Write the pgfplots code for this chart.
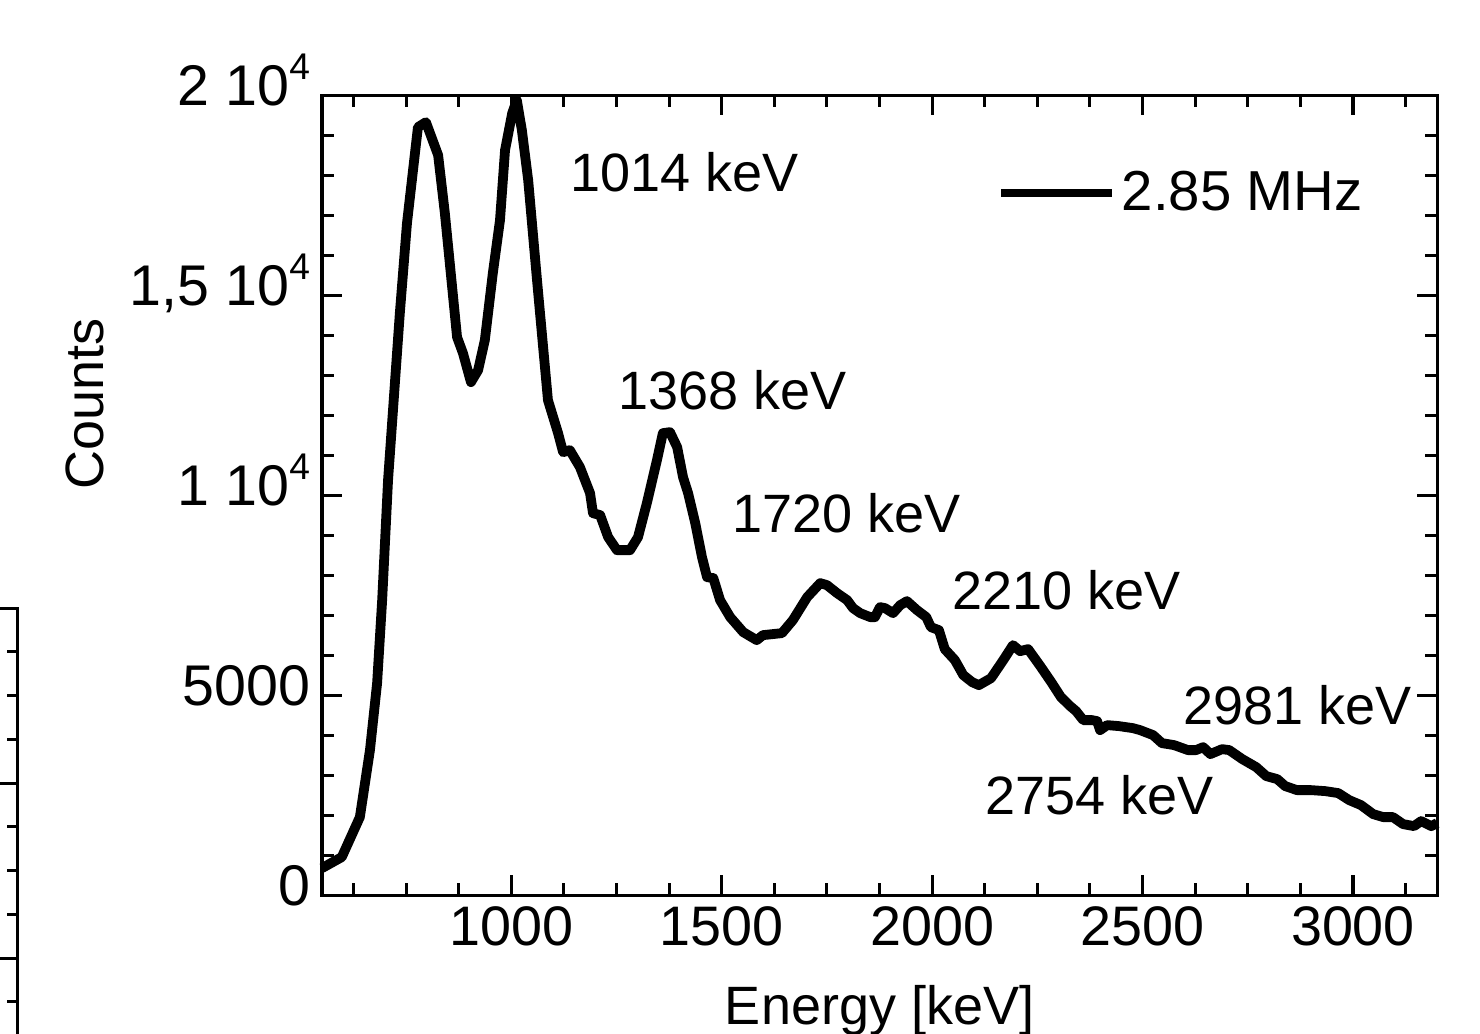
\documentclass[border=0pt]{standalone}
\usepackage{fontspec}
\setmainfont{Liberation Sans}
\usepackage{pgfplots}
\pgfplotsset{compat=1.18}
\newcommand\sq[1]{\raisebox{7.6pt}{\fontsize{11}{12}\selectfont #1}}
\begin{document}
\begin{tikzpicture}[font=\fontsize{16}{19}\selectfont]
\path[use as bounding box] (-95.4pt,-40.9pt) rectangle (343.1pt,265.2pt);
% fragment of the neighbouring chart at the left edge
\begin{axis}[
  at={(-90.1pt,85.0pt)}, anchor=north east,
  scale only axis, width=300pt, height=200pt,
  xmin=0, xmax=1, ymin=0.1428, ymax=4,
  xtick=\empty, ytick={1,2,3,4}, yticklabels={},
  minor ytick={0.25,0.5,...,4},
  ytick pos=right, tick align=inside,
  axis line style={line width=0.9pt},
  tick style={line width=0.9pt, black},
  major tick length=6pt, minor tick length=3.3pt,
]
\end{axis}
\begin{axis}[
  at={(0pt,0pt)}, anchor=south west,
  scale only axis, width=330.4pt, height=237pt,
  xmin=550, xmax=3200, ymin=0, ymax=20000,
  scaled y ticks=false, scaled x ticks=false,
  xtick={1000,1500,2000,2500,3000},
  xticklabels={1000,1500,2000,2500,3000},
  minor xtick={625,750,...,3125},
  ytick={0,5000,10000,15000,20000},
  yticklabels={0,5000,{1 10\sq{4}},{1,5 10\sq{4}},{2 10\sq{4}}},
  minor ytick={1000,2000,...,19000},
  xticklabel style={font=\fontsize{16.5}{19}\selectfont},
  yticklabel style={font=\fontsize{17}{19}\selectfont, anchor=base east, yshift=-3pt},
  tick align=inside,
  axis line style={line width=0.9pt},
  tick style={line width=0.9pt, black},
  major tick length=5.9pt, minor tick length=3.6pt,
  xlabel={Energy [keV]}, ylabel={Counts},
  xlabel style={at={(axis description cs:0.5,-0.112)}, anchor=north, inner sep=0pt},
  ylabel style={at={(axis description cs:-0.2126,0.614)}, anchor=center, inner sep=0pt},
  clip=false,
  legend style={draw=none, fill=none, inner sep=0pt, at={(0.6045,0.8775)}, anchor=west,
    font=\fontsize{16.7}{19}\selectfont, nodes={inner sep=1.5pt}},
  legend image code/.code={\draw[#1, line width=2.5pt] (0pt,0pt) -- (33pt,0pt);},
]
\addplot[black, line width=2.9pt, line join=round] coordinates {
(550,675) (597,950) (640,1950) (664,3625) (681,5300) (693,7375) (707,10375)
(735,14550) (752,16800) (778,19200) (797,19325) (826,18500) (842,17050)
(871,13950) (885,13550) (904,12825) (921,13125) (937,13875) (956,15550)
(973,16875) (985,18625) (1002,19550) (1013,19875) (1025,19125) (1040,17875)
(1061,15375) (1087,12375) (1111,11550) (1123,11075) (1139,11125) (1163,10700)
(1187,10050) (1194,9550) (1211,9500) (1230,8950) (1251,8625) (1282,8625)
(1301,8950) (1322,9800) (1346,10875) (1360,11550) (1377,11575) (1394,11200)
(1408,10450) (1420,10050) (1437,9300) (1453,8450) (1465,7950) (1480,7925)
(1496,7375) (1520,6950) (1551,6575) (1583,6375) (1598,6500) (1643,6550)
(1669,6875) (1703,7450) (1734,7800) (1750,7750) (1774,7550) (1798,7375)
(1812,7175) (1829,7050) (1853,6950) (1864,6950) (1876,7200) (1888,7175)
(1907,7050) (1924,7250) (1940,7350) (1964,7125) (1986,6950) (1997,6700)
(2016,6625) (2030,6150) (2054,5875) (2074,5500) (2095,5325) (2111,5250)
(2140,5425) (2169,5875) (2192,6250) (2209,6100) (2228,6150) (2257,5725)
(2283,5325) (2306,4950) (2328,4725) (2342,4600) (2359,4375) (2380,4375)
(2392,4350) (2399,4125) (2416,4250) (2444,4225) (2477,4175) (2494,4125)
(2525,4000) (2546,3800) (2575,3750) (2608,3625) (2627,3625) (2644,3700)
(2661,3525) (2689,3650) (2706,3625) (2737,3400) (2770,3200) (2794,2975)
(2820,2900) (2839,2725) (2867,2625) (2900,2625) (2934,2600) (2965,2550)
(2991,2375) (3019,2250) (3048,2025) (3072,1950) (3095,1950) (3119,1775)
(3145,1725) (3162,1850) (3186,1725) (3200,1800)
};
\addlegendentry{2.85 MHz}
\node[anchor=west, inner sep=0pt] at (axis cs:1139,18075) {1014 keV};
\node[anchor=west, inner sep=0pt] at (axis cs:1253,12625) {1368 keV};
\node[anchor=west, inner sep=0pt] at (axis cs:1524,9550) {1720 keV};
\node[anchor=west, inner sep=0pt] at (axis cs:2047,7625) {2210 keV};
\node[anchor=west, inner sep=0pt] at (axis cs:2596,4750) {2981 keV};
\node[anchor=west, inner sep=0pt] at (axis cs:2126,2500) {2754 keV};
\end{axis}
\end{tikzpicture}
\end{document}
